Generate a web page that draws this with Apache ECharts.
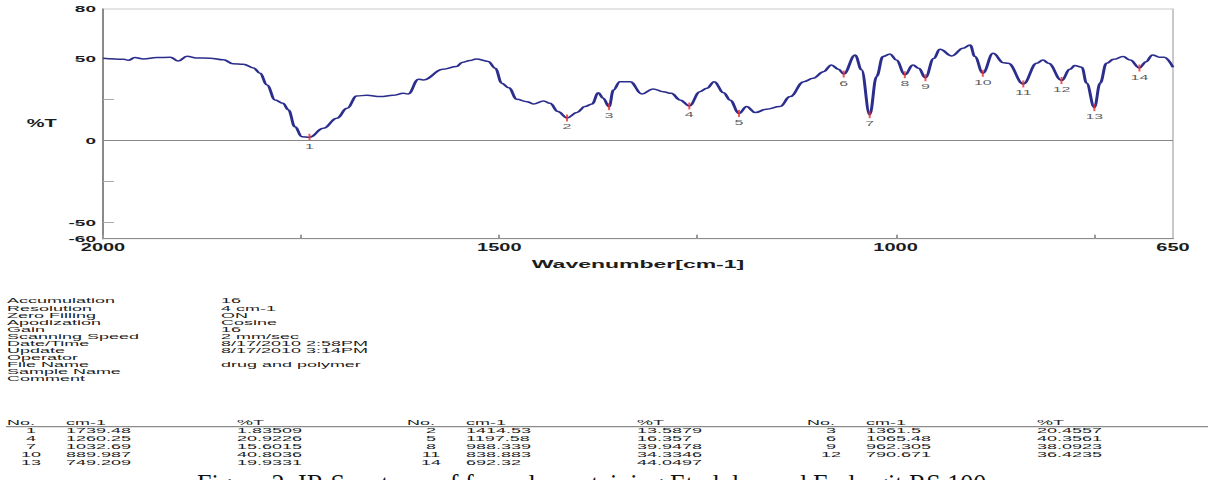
<!DOCTYPE html>
<html>
<head>
<meta charset="utf-8">
<title>IR Spectrum</title>
<script src="https://cdn.jsdelivr.net/npm/echarts@6.0.0/dist/echarts.min.js"></script>
<style>
  html, body { margin: 0; padding: 0; background: #fff; overflow: hidden; }
  /* the instrument printout is laid out at half width and widened 2x */
  #chart { width: 604px; height: 480px; transform: scaleX(2); transform-origin: 0 0; }
</style>
</head>
<body>
<div id="chart"></div>
<script>
// Spectrum trace: wavenumber (cm-1) and transmittance (%T)
const waveNumbers = [
  2000, 1974, 1968, 1960, 1949, 1932, 1915, 1905, 1894, 1882, 1865, 1848, 1836, 1823, 1810,
  1802, 1793, 1783, 1773, 1766, 1758, 1749, 1739.48, 1722, 1705, 1692, 1680, 1667, 1650, 1634,
  1621, 1615, 1602, 1596, 1571, 1554, 1547, 1537, 1529, 1514, 1505, 1497, 1488, 1478, 1465,
  1457, 1444, 1436, 1426, 1414.53, 1402, 1392, 1383, 1375, 1369, 1361.5, 1356, 1348, 1335, 1320,
  1306, 1293, 1283, 1272, 1260.25, 1247, 1238, 1229, 1217, 1209, 1197.58, 1188, 1177, 1163, 1146,
  1133, 1116, 1104, 1091, 1081, 1072, 1065.48, 1051, 1043, 1032.69, 1024, 1016, 1007, 999, 988.339,
  978, 971, 962.305, 952, 944, 929, 915, 906, 900, 889.987, 877, 864, 858, 838.883, 822,
  814, 807, 790.671, 780, 774, 765, 759, 749.209, 742, 734, 725, 713, 704, 692.32, 684,
  676, 667, 661, 650
];
const transmittance = [
  50.0, 49.4, 48.7, 50.4, 49.6, 50.4, 50.6, 48.3, 51.2, 50.2, 50.0, 49.0, 46.7, 46.3, 44.1,
  40.8, 33.7, 24.6, 22.5, 18.5, 8.3, 2.2, 1.83509, 7.3, 13.4, 19.5, 27.0, 27.4, 26.6, 27.4,
  28.6, 28.2, 37.2, 36.8, 43.3, 44.9, 47.4, 48.6, 49.6, 48.0, 43.9, 34.8, 32.0, 25.0, 23.5,
  22.1, 24.0, 22.5, 17.5, 13.5879, 16.9, 20.5, 22.1, 29.0, 25.6, 20.4557, 30.6, 35.7, 35.7, 28.2,
  31.3, 29.6, 28.6, 24.6, 20.9226, 29.6, 31.7, 35.7, 29.0, 24.6, 16.357, 20.5, 16.9, 18.9, 20.5,
  26.6, 35.7, 37.8, 41.8, 45.9, 43.3, 40.3561, 52.0, 42.9, 15.6015, 38.8, 51.0, 52.6, 48.9, 39.9478,
  45.9, 43.9, 38.0923, 49.9, 55.5, 51.4, 56.1, 58.1, 51.0, 40.8036, 53.0, 47.3, 46.9, 34.3346, 46.9,
  48.9, 46.9, 36.4235, 43.3, 45.5, 44.5, 34.7, 19.9331, 34.7, 46.9, 49.3, 51.0, 48.9, 44.0497, 47.9,
  52.0, 50.6, 50.6, 44.5
];

// Peak pick table
const peakNo = [1, 2, 3, 4, 5, 6, 7, 8, 9, 10, 11, 12, 13, 14];
const peakWave = ['1739.48', '1414.53', '1361.5', '1260.25', '1197.58', '1065.48', '1032.69',
  '988.339', '962.305', '889.987', '838.883', '790.671', '749.209', '692.32'];
const peakT = ['1.83509', '13.5879', '20.4557', '20.9226', '16.357', '40.3561', '15.6015',
  '39.9478', '38.0923', '40.8036', '34.3346', '36.4235', '19.9331', '44.0497'];

// Axis ticks and labels
const xTickValues = [2000, 1750, 1500, 1250, 1000, 750];
const xLabelValues = [2000, 1500, 1000, 650];
const yTickValues = [-50, -25, 0, 25, 50];
const yLabelValues = [-60, -50, 0, 50, 80];

// Measurement parameters
const infoLabels = ['Accumulation', 'Resolution', 'Zero Filling', 'Apodization', 'Gain',
  'Scanning Speed', 'Date/Time', 'Update', 'Operator', 'File Name', 'Sample Name', 'Comment'];
const infoValues = ['16', '4 cm-1', 'ON', 'Cosine', '16', '2 mm/sec', '8/17/2010 2:58PM',
  '8/17/2010 3:14PM', '', 'drug and polymer', '', ''];
const tableHeader = ['No.', 'cm-1', '%T'];
const captionText = 'Figure 2: IR Spectrum of formula containing Etodolac and Eudragit RS 100';

const chart = echarts.init(document.getElementById('chart'), null, { renderer: 'svg' });

const sans = '"Liberation Sans", Arial, sans-serif';
const textFill = '#1c1c1c';

// small printout text: short and wide
function txt(x, y, s) {
  return {
    type: 'text', x: x, y: y, scaleX: 1.2, silent: true,
    style: { text: s, fontSize: 7.5, fontFamily: sans, fill: textFill, align: 'left', verticalAlign: 'middle' }
  };
}

const graphics = [];
infoLabels.forEach((s, i) => graphics.push(txt(3.5, 301 + i * 7.06, s)));
infoValues.forEach((s, i) => { if (s) graphics.push(txt(110.5, 301 + i * 7.06, s)); });

// peak table: three column groups
for (let g = 0; g < 3; g++) {
  const ox = g * 200;
  graphics.push(txt(3.5 + ox, 422.5, tableHeader[0]));
  graphics.push(txt(33 + ox, 422.5, tableHeader[1]));
  graphics.push(txt(118.5 + ox, 422.5, tableHeader[2]));
}
graphics.push({
  type: 'line', silent: true,
  shape: { x1: 3, y1: 426.6, x2: 604, y2: 426.6 },
  style: { stroke: '#8c8c8c', lineWidth: 1.4 }
});
peakNo.forEach((n, i) => {
  const row = Math.floor(i / 3), g = i % 3, ox = g * 200, y = 431 + row * 7.9;
  const t = txt(15.5 + ox, y, String(n));
  t.style.align = 'center';
  graphics.push(t);
  graphics.push(txt(33 + ox, y, peakWave[i]));
  graphics.push(txt(118.5 + ox, y, peakT[i]));
});
// figure caption, running off the bottom edge
graphics.push({
  type: 'text', x: 98.5, y: 496, scaleX: 0.5, silent: true,
  style: { text: captionText, fontSize: 26, fontFamily: '"Liberation Serif", "Times New Roman", serif',
    fill: '#111', align: 'left', verticalAlign: 'bottom' }
});

const option = {
  animation: false,
  grid: { left: 51.5, right: 17.5, top: 9, bottom: 241.3, show: true, borderColor: '#c9c9c9', borderWidth: 1 },
  xAxis: {
    type: 'value', inverse: true, min: 650, max: 2000,
    name: 'Wavenumber[cm-1]', nameLocation: 'middle', nameGap: 19,
    nameTextStyle: { fontSize: 11.5, fontWeight: 'bold', fontFamily: sans, color: '#1c1c1c' },
    axisLine: { onZero: false, lineStyle: { color: '#8a8a8a', width: 1 } },
    axisTick: { inside: true, length: 4, customValues: xTickValues, lineStyle: { color: '#999' } },
    axisLabel: { customValues: xLabelValues, formatter: v => String(v), margin: 4, fontSize: 10,
      fontWeight: 'bold', fontFamily: sans, color: '#1c1c1c' },
    splitLine: { show: false }
  },
  yAxis: {
    type: 'value', min: -60, max: 80,
    name: '%T', nameLocation: 'middle', nameRotate: 0, nameGap: 21,
    nameTextStyle: { fontSize: 10, fontWeight: 'bold', fontFamily: sans, color: '#1c1c1c', padding: [10, 0, 0, 0] },
    axisLine: { show: true, lineStyle: { color: '#8a8a8a', width: 1 } },
    axisTick: { show: true, inside: true, length: 5.5, customValues: yTickValues, lineStyle: { color: '#a8a8a8' } },
    axisLabel: { customValues: yLabelValues, formatter: v => String(v), margin: 3.5, fontSize: 9.5,
      fontWeight: 'bold', fontFamily: sans, color: '#1c1c1c' },
    splitLine: { show: false }
  },
  series: [
    {
      type: 'line', name: '%T',
      data: waveNumbers.map((w, i) => [w, transmittance[i]]),
      showSymbol: false, smooth: 0.4, smoothMonotone: 'x',
      lineStyle: { color: '#2b2e8c', width: 1.5 },
      markLine: {
        silent: true, symbol: 'none', label: { show: false },
        lineStyle: { color: '#888', width: 1, type: 'solid' },
        data: [{ yAxis: 0 }]
      },
      z: 2
    },
    {
      type: 'scatter', name: 'peaks',
      data: peakNo.map((n, i) => [parseFloat(peakWave[i]), parseFloat(peakT[i]), n]),
      symbol: 'rect', symbolSize: [1, 7],
      itemStyle: { color: '#ee2a2a' },
      label: {
        show: true, position: 'bottom', distance: 1.5,
        formatter: p => String(p.data[2]),
        fontSize: 8, fontFamily: sans, color: '#333'
      },
      z: 3
    }
  ],
  graphic: graphics
};

chart.setOption(option);
</script>
</body>
</html>
